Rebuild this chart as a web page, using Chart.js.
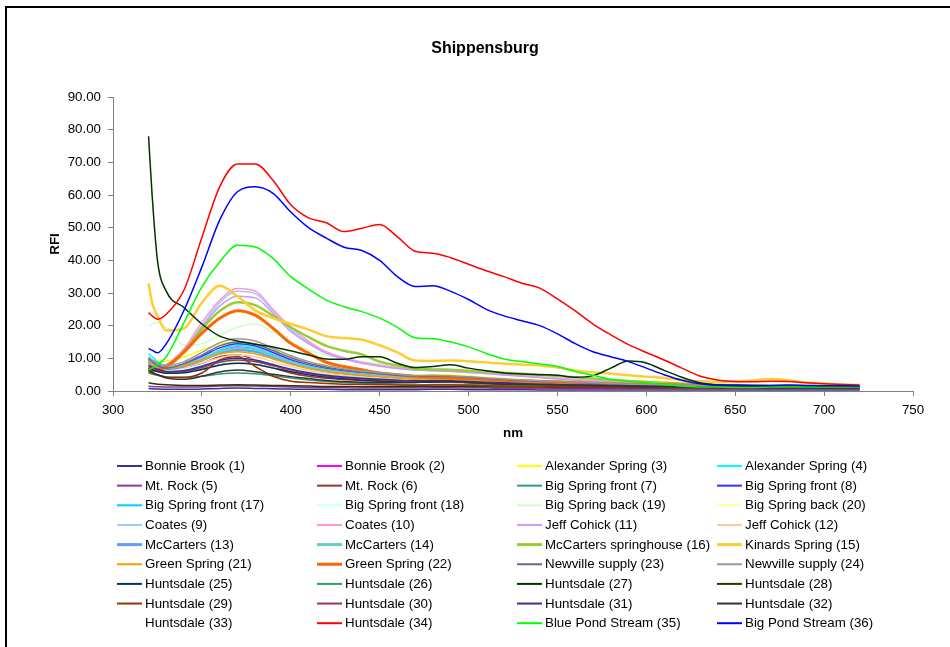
<!DOCTYPE html>
<html><head><meta charset="utf-8">
<script src="https://cdn.jsdelivr.net/npm/chart.js@4.4.1/dist/chart.umd.min.js"></script>
<style>html,body{margin:0;padding:0;background:#fff;} #wrap{position:relative;width:950px;height:647px;}</style>
</head><body><div id="wrap"><canvas id="c" width="950" height="647"></canvas></div>
<script>
// wavelengths (nm)
const wavelengths = [320,322,325,330,340,350,360,370,380,390,400,410,420,430,440,450,460,470,480,490,500,510,520,530,540,550,560,570,580,590,600,610,620,630,640,650,660,670,680,690,700,710,720];
const xTicks = [300,350,400,450,500,550,600,650,700,750];
const yTicks = [0,10,20,30,40,50,60,70,80,90];
const chartTitle = 'Shippensburg';

const bonnieBrook1 = [0.8,0.7,0.6,0.5,0.5,0.6,0.8,0.9,0.8,0.7,0.6,0.5,0.5,0.4,0.4,0.4,0.4,0.4,0.5,0.5,0.4,0.4,0.4,0.4,0.3,0.3,0.3,0.3,0.3,0.3,0.3,0.3,0.3,0.3,0.3,0.3,0.3,0.3,0.3,0.3,0.3,0.3,0.3];
const bonnieBrook2 = [9,8,7,6.5,7.5,9.8,12.2,13.5,12.8,10.8,8.8,7.4,6.4,5.7,5.2,4.8,4.3,4,4.1,4,3.7,3.4,3.1,2.9,2.7,2.5,2.3,2.1,1.9,1.8,1.6,1.5,1.4,1.3,1.2,1.2,1.1,1.1,1.1,1,1,1,0.9];
const alexanderSpring3 = [10,9.5,9,9.2,10.5,12.5,14.3,15,14.4,12.6,10.6,9,7.8,6.9,6.2,5.6,5.1,4.8,5,4.9,4.5,4.1,3.8,3.5,3.3,3.1,2.8,2.6,2.4,2.2,2,1.9,1.7,1.6,1.5,1.4,1.4,1.4,1.3,1.3,1.2,1.2,1.2];
const alexanderSpring4 = [11.5,10.5,9,7.5,8,10,12.6,14,13.2,11.2,9.2,7.7,6.6,5.8,5.3,4.9,4.4,4.1,4.2,4.1,3.8,3.5,3.2,3,2.8,2.6,2.4,2.2,2,1.8,1.7,1.6,1.5,1.4,1.3,1.3,1.2,1.2,1.2,1.1,1.1,1.1,1];
const mtRock5 = [1.5,1.4,1.3,1.2,1.2,1.3,1.5,1.6,1.5,1.4,1.2,1.1,1,1,0.9,0.9,0.9,0.9,1,1,0.9,0.9,0.8,0.8,0.8,0.8,0.7,0.7,0.7,0.7,0.7,0.7,0.6,0.6,0.6,0.6,0.6,0.6,0.6,0.6,0.6,0.6,0.6];
const mtRock6 = [8.5,8.2,7.8,7.5,7.4,8.5,10.5,11,9.5,7.2,5.5,4.5,3.9,3.5,3.2,3,2.8,2.6,2.7,2.7,2.5,2.3,2.1,2,1.9,1.8,1.7,1.6,1.5,1.4,1.3,1.3,1.2,1.2,1.1,1.1,1.1,1,1,1,1,1,1];
const bigSpringFront7 = [7,6.5,6,5.6,6,7,8.3,9,8.6,7.4,6.2,5.2,4.5,4,3.6,3.3,3.1,2.9,3,3,2.8,2.6,2.4,2.2,2.1,2,1.8,1.7,1.6,1.5,1.4,1.3,1.2,1.2,1.1,1.1,1,1,1,1,1,0.9,0.9];
const bigSpringFront8 = [9.5,9,8,7.2,8.3,10.6,13.2,14.5,13.8,11.8,9.6,8,6.9,6.1,5.5,5,4.6,4.3,4.4,4.3,4,3.7,3.4,3.1,2.9,2.7,2.5,2.3,2.1,1.9,1.8,1.7,1.6,1.5,1.4,1.4,1.3,1.3,1.3,1.2,1.2,1.2,1.1];
const bigSpringFront17 = [10,9.2,8.2,7,7.5,9.3,11.4,12.5,11.9,10.2,8.4,7,6,5.3,4.8,4.4,4,3.7,3.8,3.7,3.4,3.1,2.9,2.7,2.5,2.3,2.1,2,1.8,1.7,1.6,1.5,1.4,1.3,1.3,1.2,1.2,1.2,1.1,1.1,1.1,1,1];
const bigSpringFront18 = [8,7.5,7,6.5,6.8,7.9,9.3,10,9.6,8.3,7,5.9,5.1,4.5,4.1,3.7,3.4,3.2,3.3,3.2,3,2.8,2.6,2.4,2.2,2.1,1.9,1.8,1.7,1.6,1.5,1.4,1.3,1.3,1.2,1.2,1.1,1.1,1.1,1.1,1,1,1];
const bigSpringBack19 = [20,20.5,21,19.5,14,14.5,17,19.5,20.5,18,15,12.5,11,10,9,8.3,7.5,7,6.5,6.2,5.8,5.4,5,4.6,4.2,3.8,3.5,3.2,2.9,2.6,2.4,2.2,2,1.9,1.8,1.7,1.7,1.6,1.6,1.5,1.5,1.5,1.4];
const bigSpringBack20 = [7.5,7,6.6,6.2,6.4,7.2,8.4,9,8.6,7.5,6.3,5.3,4.6,4.1,3.7,3.4,3.1,2.9,3,2.9,2.7,2.5,2.3,2.2,2,1.9,1.8,1.7,1.6,1.5,1.4,1.3,1.3,1.2,1.2,1.1,1.1,1.1,1,1,1,1,1];
const coates9 = [8.5,8,7.6,8.2,12.8,20,27,30.5,29.8,24.5,18.8,14.8,11.6,9.9,8.6,7.8,7,6.5,6.3,6.1,5.8,5.4,5,4.6,4.2,3.8,3.4,3.1,2.8,2.5,2.3,2.1,2,1.9,1.8,1.7,1.6,1.6,1.5,1.5,1.4,1.4,1.3];
const coates10 = [8,7.6,7.2,8,13,21,27.8,31.4,30.6,25,19.5,15.3,12,10.2,8.8,7.9,7.1,6.6,6.4,6.2,5.9,5.5,5.1,4.7,4.3,3.9,3.5,3.1,2.8,2.5,2.3,2.1,2,1.9,1.8,1.7,1.6,1.6,1.5,1.5,1.4,1.4,1.3];
const jeffCohick11 = [7.5,7.2,7,7.6,12,19.5,26,29,28.5,23.8,18.2,14.5,11.5,9.8,8.5,7.6,6.9,6.4,6.2,6,5.7,5.3,4.9,4.5,4.1,3.7,3.3,3,2.7,2.4,2.2,2,1.9,1.8,1.7,1.6,1.5,1.5,1.4,1.4,1.3,1.3,1.3];
const jeffCohick12 = [8,7.5,7,6.6,7.2,8.6,10.2,11,10.5,9,7.5,6.3,5.4,4.8,4.3,3.9,3.6,3.4,3.5,3.4,3.2,2.9,2.7,2.5,2.3,2.2,2,1.9,1.8,1.7,1.6,1.5,1.4,1.3,1.3,1.2,1.2,1.2,1.1,1.1,1.1,1,1];
const mcCarters13 = [9,8.3,7.5,6.8,7.6,9.5,11.7,12.8,12.2,10.4,8.6,7.2,6.2,5.5,5,4.6,4.2,3.9,4,3.9,3.6,3.3,3,2.8,2.6,2.4,2.2,2.1,1.9,1.8,1.7,1.6,1.5,1.4,1.3,1.3,1.2,1.2,1.2,1.1,1.1,1.1,1];
const mcCarters14 = [9.8,9,8,7.2,7.9,9.8,12,13.2,12.6,10.8,8.9,7.5,6.4,5.7,5.2,4.8,4.4,4.1,4.2,4.1,3.8,3.5,3.2,3,2.8,2.6,2.4,2.2,2,1.9,1.8,1.7,1.6,1.5,1.4,1.4,1.3,1.3,1.2,1.2,1.2,1.1,1.1];
const mcCartersSpringhouse16 = [7,6.5,6.2,7,12,19,24.5,27.2,26.3,23,19.5,16.5,13.8,12.3,11.2,9,7.8,6.8,6.6,6.5,6.2,5.9,5.6,5.3,5,4.6,4.2,3.8,3.4,3.1,2.8,2.5,2.3,2.1,1.9,1.8,1.7,1.6,1.6,1.5,1.5,1.4,1.4];
const kinardsSpring15 = [33,27,23,18.5,19.2,27,32.2,29,24.7,22.3,20.5,18.8,16.8,16.2,15.7,14,11.8,9.3,9.2,9.3,9.1,8.7,8.4,8.1,7.8,7.2,6.3,5.7,5.3,4.8,4.4,4,3.4,3,2.8,2.9,3.2,3.7,3.2,2.6,2.2,2,1.8];
const greenSpring21 = [8.8,8.2,7.5,7,7.8,9.5,11.3,12,11.4,9.8,8.2,6.9,6,5.3,4.8,4.4,4,3.7,3.8,3.7,3.4,3.1,2.9,2.7,2.5,2.3,2.1,2,1.8,1.7,1.6,1.5,1.4,1.3,1.3,1.2,1.2,1.2,1.1,1.1,1.1,1,1];
const greenSpring22 = [6,6.2,6.5,7.5,12,17.7,22.3,24.6,23.2,19.2,14.6,11.6,8.8,7.5,6.5,5.5,5,4.5,4.2,4,3.8,3.6,3.3,3.1,2.9,2.8,2.6,2.4,2.2,2.1,2,1.9,1.8,1.7,1.6,1.5,1.5,1.4,1.4,1.3,1.3,1.2,1.2];
const newvilleSupply23 = [10,9,7.8,7,8.4,11,13.8,15,14.4,12.4,10.2,8.5,7.3,6.4,5.8,5.3,4.8,4.5,4.6,4.5,4.2,3.8,3.5,3.2,3,2.8,2.6,2.4,2.2,2,1.9,1.8,1.7,1.6,1.5,1.4,1.4,1.3,1.3,1.3,1.2,1.2,1.2];
const newvilleSupply24 = [10.5,9.5,8.5,7.8,9,11.8,14.8,16,15.3,13.1,10.8,9,7.7,6.8,6.1,5.6,5.1,4.7,4.8,4.7,4.4,4,3.7,3.4,3.1,2.9,2.7,2.5,2.3,2.1,2,1.9,1.8,1.7,1.6,1.5,1.5,1.4,1.4,1.3,1.3,1.3,1.2];
const huntsdale25 = [7,6.5,6,5.4,5.6,6.6,7.9,8.5,8.1,7,5.9,5,4.3,3.8,3.4,3.1,2.9,2.7,2.8,2.8,2.6,2.4,2.2,2.1,1.9,1.8,1.7,1.6,1.5,1.4,1.3,1.3,1.2,1.1,1.1,1.1,1,1,1,1,0.9,0.9,0.9];
const huntsdale26 = [5.5,5.2,4.8,4.2,4.1,4.5,5.2,5.5,5.3,4.7,4,3.4,2.9,2.6,2.4,2.2,2,1.9,2,2,1.9,1.8,1.7,1.6,1.5,1.4,1.3,1.2,1.2,1.1,1.1,1,1,1,0.9,0.9,0.9,0.9,0.9,0.8,0.8,0.8,0.8];
const huntsdale27 = [78,60,40,30.5,25.5,20.5,16.8,15.3,14.3,13.5,12.3,11,9.8,9.7,10.5,10.5,8.5,7.2,7.5,8,7,6.2,5.5,5.2,5,4.8,4.2,4.7,7,9.2,8.6,6.3,4.2,2.5,1.8,1.5,1.4,1.4,1.4,1.3,1.3,1.3,1.3];
const huntsdale28 = [2.5,2.3,2.1,1.9,1.7,1.7,1.8,1.9,1.8,1.7,1.6,1.5,1.4,1.4,1.3,1.3,1.3,1.3,1.4,1.4,1.3,1.3,1.2,1.2,1.2,1.1,1.1,1.1,1.1,1,1,1,1,1,1,1,0.9,0.9,0.9,0.9,0.9,0.9,0.9];
const huntsdale29 = [6,5.5,5,4.3,4.2,5.5,9.5,10.5,7.5,4.5,3,2.6,2.3,2.1,2,1.9,1.8,1.7,1.8,1.8,1.7,1.6,1.5,1.4,1.3,1.3,1.2,1.2,1.1,1.1,1,1,1,1,0.9,0.9,0.9,0.9,0.9,0.9,0.8,0.8,0.8];
const huntsdale30 = [7.5,7,6.4,5.8,6,7.2,8.8,9.5,9,7.7,6.4,5.3,4.6,4.1,3.7,3.4,3.1,2.9,3,2.9,2.7,2.5,2.3,2.2,2,1.9,1.8,1.7,1.6,1.5,1.4,1.3,1.3,1.2,1.2,1.1,1.1,1.1,1,1,1,1,1];
const huntsdale31 = [8,7.4,6.7,6,6.3,7.6,9.3,10,9.5,8.1,6.7,5.6,4.8,4.3,3.9,3.6,3.3,3.1,3.2,3.1,2.9,2.7,2.5,2.3,2.1,2,1.9,1.8,1.7,1.6,1.5,1.4,1.3,1.3,1.2,1.2,1.1,1.1,1.1,1,1,1,1];
const huntsdale32 = [6.5,5.8,5,4,3.6,4.5,5.8,6.4,5.9,5.1,4.4,3.8,3.2,2.9,2.7,2.6,2.5,2.6,2.9,2.9,2.6,2.3,2.1,2,1.9,1.8,1.7,1.6,1.5,1.4,1.3,1.3,1.2,1.2,1.1,1.1,1.1,1,1,1,1,1,1];
const huntsdale33 = [7,6.5,6,5.5,5.8,6.8,8,8.6,8.2,7.1,6,5,4.3,3.8,3.4,3.1,2.9,2.7,2.8,2.7,2.5,2.3,2.1,2,1.9,1.8,1.7,1.6,1.5,1.4,1.3,1.3,1.2,1.2,1.1,1.1,1.1,1,1,1,1,1,1];
const huntsdale34 = [24,23,22,23.5,31,47,62.5,69.5,69.5,64.5,57,53,51.5,48.8,49.8,51,47.2,42.8,42.2,40.8,38.8,36.8,35,33,31.5,28.2,24.5,20.5,17.2,14.2,11.8,9.5,7,4.6,3.4,2.9,2.8,3.0,2.9,2.5,2.2,2.0,1.8];
const bluePondStream35 = [6.5,7,8,10.5,21,31.9,39.5,44.6,44.1,40.6,35,31.2,27.8,25.8,24.3,22.3,19.5,16.3,16,15,13.5,11.5,9.8,9,8.3,7.5,6,4.8,3.6,3,2.5,2,1.5,1.2,1.2,1.1,1.1,1.2,1.2,1.2,1.2,1.2,1.2];
const bigPondStream36 = [13,12.5,11.7,14.5,24.8,38,52.3,61,62.5,60.5,54.8,50,46.8,44,43,40,35,32,32.2,30.5,28,25,23,21.5,20,17.5,14.5,12,10.5,9,7,5,3.3,2.2,1.8,1.8,1.7,1.7,1.8,1.7,1.6,1.6,1.5];

const seriesNames = ['Bonnie Brook (1)','Bonnie Brook (2)','Alexander Spring (3)','Alexander Spring (4)',
 'Mt. Rock (5)','Mt. Rock (6)','Big Spring front (7)','Big Spring front (8)',
 'Big Spring front (17)','Big Spring front (18)','Big Spring back (19)','Big Spring back (20)',
 'Coates (9)','Coates (10)','Jeff Cohick (11)','Jeff Cohick (12)',
 'McCarters (13)','McCarters (14)','McCarters springhouse (16)','Kinards Spring (15)',
 'Green Spring (21)','Green Spring (22)','Newville supply (23)','Newville supply (24)',
 'Huntsdale (25)','Huntsdale (26)','Huntsdale (27)','Huntsdale (28)',
 'Huntsdale (29)','Huntsdale (30)','Huntsdale (31)','Huntsdale (32)',
 'Huntsdale (33)','Huntsdale (34)','Blue Pond Stream (35)','Big Pond Stream (36)'];
const seriesValues = [bonnieBrook1,bonnieBrook2,alexanderSpring3,alexanderSpring4,
 mtRock5,mtRock6,bigSpringFront7,bigSpringFront8,
 bigSpringFront17,bigSpringFront18,bigSpringBack19,bigSpringBack20,
 coates9,coates10,jeffCohick11,jeffCohick12,
 mcCarters13,mcCarters14,mcCartersSpringhouse16,kinardsSpring15,
 greenSpring21,greenSpring22,newvilleSupply23,newvilleSupply24,
 huntsdale25,huntsdale26,huntsdale27,huntsdale28,
 huntsdale29,huntsdale30,huntsdale31,huntsdale32,
 huntsdale33,huntsdale34,bluePondStream35,bigPondStream36];

// styles
const seriesColors = ['#333399','#FF00FF','#FFFF00','#00FFFF',
 '#993399','#993333','#339999','#3333FF',
 '#00CCFF','#CCFFFF','#CCFFCC','#FFFF99',
 '#99CCFF','#FF99CC','#CC99FF','#FFCC99',
 '#6699FF','#66CCCC','#99CC33','#FFCC33',
 '#FF9900','#FF6600','#666699','#999999',
 '#003366','#339966','#003300','#333300',
 '#993300','#993366','#333399','#333333',
 'rgba(0,0,0,0)','#FF0000','#00FF00','#0000FF'];
const seriesWidths = [1.5,1.5,1.5,1.5, 1.5,1.5,1.5,1.5, 1.5,1.5,1.5,1.5, 1.5,1.5,1.5,1.5,
 2.5,2.5,2.5,2.5, 1.5,3,1.5,1.5, 1.5,1.5,1.5,1.5, 1.5,1.5,1.5,1.5, 1.5,1.5,1.5,1.5];

const FONT = '"Liberation Sans", Arial, Helvetica, sans-serif';

const datasets = seriesNames.map((name, i) => ({
  label: name,
  data: wavelengths.map((w, k) => ({x: w, y: seriesValues[i][k]})),
  borderColor: seriesColors[i],
  backgroundColor: seriesColors[i],
  borderWidth: seriesWidths[i],
  legendWidth: seriesWidths[i] >= 2.5 ? 3 : 2,
  pointRadius: 0,
  fill: false,
  cubicInterpolationMode: 'monotone',
  order: seriesNames.length - i
}));

const framePlugin = {
  id: 'frame',
  beforeDraw(chart) {
    const ctx = chart.ctx;
    ctx.save();
    ctx.fillStyle = '#fff';
    ctx.fillRect(0, 0, chart.width, chart.height);
    ctx.fillStyle = '#000';
    ctx.fillRect(5, 6, chart.width, 2);
    ctx.fillRect(5, 6, 2, chart.height);
    ctx.font = 'bold 16px ' + FONT;
    ctx.textAlign = 'center';
    ctx.textBaseline = 'middle';
    ctx.fillText(chartTitle, 485, 49);
    ctx.restore();
  }
};

const gridLegend = {
  id: 'gridLegend',
  afterDraw(chart) {
    const ctx = chart.ctx, ca = chart.chartArea;
    ctx.save();
    ctx.font = '13.33px ' + FONT;
    ctx.textBaseline = 'middle';
    ctx.textAlign = 'left';
    ctx.fillStyle = '#000';
    chart.data.datasets.forEach((ds, i) => {
      const col = i % 4, row = Math.floor(i / 4);
      const x = ca.left + 4 + col * 200;
      const y = ca.bottom + 75 + row * 19.65;
      ctx.strokeStyle = ds.borderColor;
      ctx.lineWidth = ds.legendWidth;
      ctx.beginPath(); ctx.moveTo(x, y); ctx.lineTo(x + 25, y); ctx.stroke();
      ctx.fillText(ds.label, x + 28, y + 0.5);
    });
    ctx.restore();
  }
};

new Chart(document.getElementById('c'), {
  type: 'line',
  data: { datasets },
  options: {
    responsive: false,
    animation: false,
    devicePixelRatio: 1,
    layout: { padding: { left: 44, right: 37, top: 97, bottom: 202 } },
    plugins: {
      legend: { display: false },
      tooltip: { enabled: false },
      title: { display: false }
    },
    scales: {
      x: {
        type: 'linear', min: 300, max: 750,
        afterBuildTicks: s => { s.ticks = xTicks.map(v => ({value: v})); },
        afterFit: s => { s.height = 54; },
        ticks: { color: '#000', font: { family: FONT, size: 13.33 }, padding: 6, maxRotation: 0, autoSkip: false },
        grid: { drawOnChartArea: false, drawTicks: true, tickLength: 5, color: '#808080' },
        border: { display: true, color: '#808080', width: 1 },
        title: { display: true, text: 'nm', color: '#000', font: { family: FONT, size: 13.33, weight: 'bold' }, padding: { top: 7, bottom: 4 } }
      },
      y: {
        min: 0, max: 90,
        afterBuildTicks: s => { s.ticks = yTicks.map(v => ({value: v})); },
        afterFit: s => { s.width = 69; },
        ticks: { color: '#000', font: { family: FONT, size: 13.33 }, padding: 7, callback: v => Number(v).toFixed(2) },
        grid: { drawOnChartArea: false, drawTicks: true, tickLength: 5, color: '#808080' },
        border: { display: true, color: '#808080', width: 1 },
        title: { display: true, text: 'RFI', color: '#000', font: { family: FONT, size: 13.33, weight: 'bold' }, padding: { top: 3, bottom: 0 } }
      }
    }
  },
  plugins: [framePlugin, gridLegend]
});
</script>
</body></html>
